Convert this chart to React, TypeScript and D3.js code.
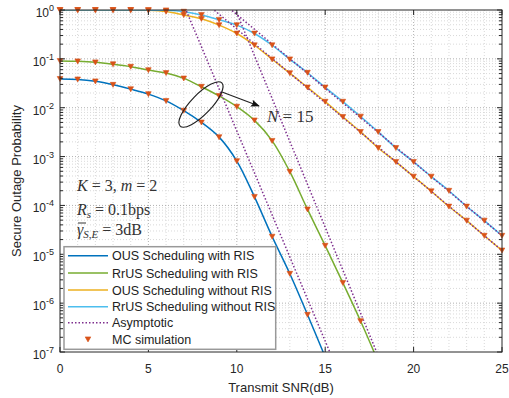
import React from "react";
import * as d3 from "d3";

const snrDb = d3.range(0, 26);
const ousWithRis = [0.0389, 0.038, 0.0347, 0.0295, 0.024, 0.019, 0.0138, 0.0087, 0.005, 0.0025, 8.1e-4, 1.5e-4, 2.3e-5, 4.0e-6, 5.8e-7, 7.9e-8];
const rrusWithRis = [0.0906, 0.0891, 0.0851, 0.0776, 0.0692, 0.0589, 0.0513, 0.0398, 0.0269, 0.0174, 0.0105, 0.0055, 0.0021, 4.9e-4, 8.3e-5, 1.5e-5, 2.6e-6, 4.3e-7, 6.3e-8];
const ousNoRis = [1, 1, 1, 1, 1, 0.99, 0.93, 0.79, 0.66, 0.49, 0.33, 0.19, 0.098, 0.051, 0.026, 0.0133, 0.0065, 0.0032, 0.0015, 7.8e-4, 3.9e-4, 1.95e-4, 9.5e-5, 4.9e-5, 2.4e-5, 1.2e-5];
const rrusNoRis = [1, 1, 1, 1, 1, 0.995, 0.985, 0.925, 0.79, 0.63, 0.49, 0.33, 0.19, 0.098, 0.052, 0.026, 0.0133, 0.0066, 0.0032, 0.0015, 7.8e-4, 3.9e-4, 2.0e-4, 9.5e-5, 4.9e-5, 2.4e-5];
// asymptotes: [snr, prob] endpoints
const asymOusRis = [[6, 9.3], [16, 2.3e-8]];
const asymRrusRis = [[9, 6.6], [19, 1.1e-8]];
const asymOusNoRis = [[6, 6.6], [25, 1.2e-5]];
const asymRrusNoRis = [[7, 6.5], [25, 2.4e-5]];
const xTicks = [0, 5, 10, 15, 20, 25];
const yExps = [0, -1, -2, -3, -4, -5, -6, -7];
const legendLabels = ["OUS Scheduling with RIS", "RrUS Scheduling with RIS", "OUS Scheduling without RIS", "RrUS Scheduling without RIS", "Asymptotic", "MC simulation"];

const C = { blue: "#0072BD", green: "#77AC30", orange: "#EDB120", cyan: "#4DBEEE", purple: "#7E2F8E", marker: "#D95319", axis: "#262626" };
const SANS = "'Liberation Sans', Arial, sans-serif";
const SERIF = "'Liberation Serif', 'Times New Roman', serif";

export default function App() {
  const W = 509, H = 398;
  const L = 60, R = 502, T = 10, B = 352;
  const x = d3.scaleLinear().domain([0, 25]).range([L, R]);
  const y = d3.scaleLog().domain([1e-7, 1]).range([B, T]);
  const line = d3.line<[number, number]>().x(d => x(d[0])).y(d => y(d[1])).curve(d3.curveCatmullRom);
  const toPts = (arr: number[]) => arr.map((v, i) => [snrDb[i], v] as [number, number]);
  const series = [
    { data: ousWithRis, color: C.blue },
    { data: rrusWithRis, color: C.green },
    { data: ousNoRis, color: C.orange },
    { data: rrusNoRis, color: C.cyan },
  ];
  const asyms = [asymOusRis, asymRrusRis, asymOusNoRis, asymRrusNoRis];
  const minorY: number[] = [];
  for (let e = -7; e < 0; e++) for (let k = 2; k <= 9; k++) minorY.push(k * Math.pow(10, e));
  const minorX = d3.range(0, 26).filter(v => v % 5 !== 0);
  const tri = (cx: number, cy: number, key: string) => (
    <path key={key} d={`M${cx - 2.8},${cy - 2.4} L${cx + 2.8},${cy - 2.4} L${cx},${cy + 2.6} Z`} fill={C.marker} stroke={C.marker} strokeWidth={0.6} />
  );
  const legY = [255.7, 273, 290, 306.7, 322.7, 339.3];
  return (
    <svg width={W} height={H} style={{ position: "absolute", left: 0, top: 0, background: "#fff" }} fontFamily={SANS}>
      <defs>
        <clipPath id="plot"><rect x={L} y={T} width={R - L} height={B - T} /></clipPath>
        <marker id="arr" viewBox="0 0 10 10" refX="9" refY="5" markerWidth="9" markerHeight="9" orient="auto" markerUnits="userSpaceOnUse">
          <path d="M0,1 L10,5 L0,9 L2,5 Z" fill="#111" />
        </marker>
      </defs>
      <rect x={0} y={0} width={W} height={H} fill="#fff" />
      {/* grid */}
      <g stroke="#cfcfcf" strokeWidth={0.8} strokeDasharray="1,2" fill="none">
        {minorX.map(v => <line key={"mx" + v} x1={x(v)} x2={x(v)} y1={T} y2={B} />)}
        {minorY.map((v, i) => <line key={"my" + i} x1={L} x2={R} y1={y(v)} y2={y(v)} />)}
      </g>
      <g stroke="#a8a8a8" strokeWidth={0.9} strokeDasharray="1,2" fill="none">
        {xTicks.slice(1, -1).map(v => <line key={"gx" + v} x1={x(v)} x2={x(v)} y1={T} y2={B} />)}
        {yExps.slice(1, -1).map(e => <line key={"gy" + e} x1={L} x2={R} y1={y(Math.pow(10, e))} y2={y(Math.pow(10, e))} />)}
      </g>
      {/* curves */}
      <g clipPath="url(#plot)" fill="none">
        {series.map((s, i) => <path key={"s" + i} d={line(toPts(s.data)) || ""} stroke={s.color} strokeWidth={1.5} />)}
        {asyms.map((a, i) => <path key={"a" + i} d={`M${x(a[0][0])},${y(a[0][1])} L${x(a[1][0])},${y(a[1][1])}`} stroke={C.purple} strokeWidth={1.5} strokeDasharray="1.5,2" />)}
      </g>
      {/* markers */}
      <g>
        {series.map((s, i) => toPts(s.data).filter(p => p[1] >= 1e-7 && p[1] <= 1).map(p => tri(x(p[0]), y(p[1]), `m${i}-${p[0]}`)))}
      </g>
      {/* axes box */}
      <rect x={L} y={T} width={R - L} height={B - T} fill="none" stroke={C.axis} strokeWidth={1} />
      <g stroke={C.axis} strokeWidth={1}>
        {xTicks.map(v => <g key={"xt" + v}><line x1={x(v)} x2={x(v)} y1={B} y2={B - 5} /><line x1={x(v)} x2={x(v)} y1={T} y2={T + 5} /></g>)}
        {yExps.map(e => <g key={"yt" + e}><line x1={L} x2={L + 5} y1={y(Math.pow(10, e))} y2={y(Math.pow(10, e))} /><line x1={R} x2={R - 5} y1={y(Math.pow(10, e))} y2={y(Math.pow(10, e))} /></g>)}
        {minorY.map((v, i) => <g key={"ym" + i}><line x1={L} x2={L + 3} y1={y(v)} y2={y(v)} /><line x1={R} x2={R - 3} y1={y(v)} y2={y(v)} /></g>)}
      </g>
      <g fill={C.axis} fontSize={12}>
        {xTicks.map(v => <text key={"xl" + v} x={x(v)} y={373} textAnchor="middle">{v}</text>)}
        {yExps.map(e => (
          <text key={"yl" + e} x={54} y={y(Math.pow(10, e)) + 7} textAnchor="end">
            10<tspan fontSize={9} dy={-6}>{e}</tspan>
          </text>
        ))}
        <text x={281} y={392} textAnchor="middle" fontSize={13}>Transmit SNR(dB)</text>
        <text transform={`translate(21,${(T + B) / 2}) rotate(-90)`} textAnchor="middle" fontSize={13}>Secure Outage Probability</text>
      </g>
      {/* annotations */}
      <ellipse cx={201} cy={104.5} rx={30} ry={10} transform="rotate(-46 201 104.5)" fill="none" stroke="#222" strokeWidth={1.2} />
      <line x1={222} y1={92} x2={259} y2={106} stroke="#222" strokeWidth={1.2} markerEnd="url(#arr)" />
      <text x={267} y={122} fontFamily={SERIF} fontSize={17} fill="#333"><tspan fontStyle="italic">N</tspan> = 15</text>
      <g fontFamily={SERIF} fontSize={16} fill="#333">
        <text x={77} y={191}><tspan fontStyle="italic">K</tspan> = 3, <tspan fontStyle="italic">m</tspan> = 2</text>
        <text x={77} y={215}><tspan fontStyle="italic">R</tspan><tspan fontStyle="italic" fontSize={11} dy={3}>s</tspan><tspan dy={-3}> = 0.1bps</tspan></text>
        <text x={77} y={235}><tspan fontStyle="italic">γ</tspan><tspan fontStyle="italic" fontSize={11} dy={3}>S,E</tspan><tspan dy={-3}> = 3dB</tspan></text>
        <line x1={78} x2={86} y1={223} y2={223} stroke="#333" strokeWidth={1} />
      </g>
      {/* legend */}
      <rect x={64} y={246.7} width={211.7} height={102.6} fill="#fff" stroke="#999" strokeWidth={1.5} />
      <g fontSize={12.5} fill="#222">
        {[C.blue, C.green, C.orange, C.cyan].map((c, i) => <line key={"ll" + i} x1={68} x2={108} y1={legY[i]} y2={legY[i]} stroke={c} strokeWidth={1.5} />)}
        <line x1={68} x2={108} y1={legY[4]} y2={legY[4]} stroke={C.purple} strokeWidth={1.5} strokeDasharray="1.5,2" />
        {tri(88, legY[5], "legm")}
        {legendLabels.map((t, i) => <text key={"lt" + i} x={112} y={legY[i] + 4.5}>{t}</text>)}
      </g>
    </svg>
  );
}
